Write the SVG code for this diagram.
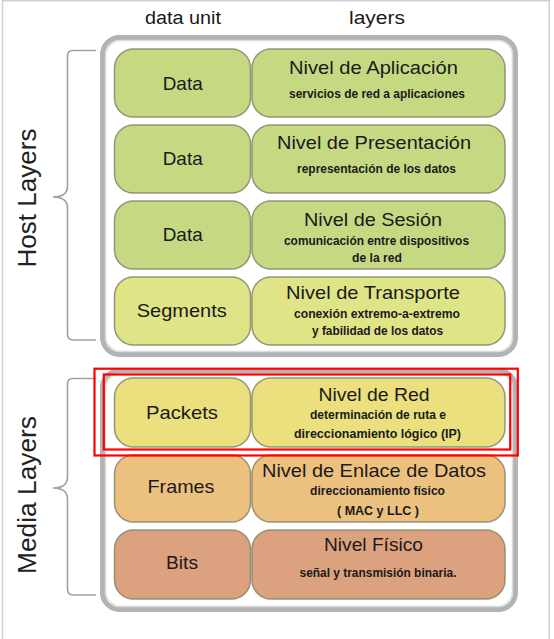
<svg xmlns="http://www.w3.org/2000/svg" width="554" height="639" viewBox="0 0 554 639">
<style>
.frame{fill:none;stroke:#cdd0d8;stroke-width:1.5}
.cont{fill:#ffffff;stroke:#b3b3b3;stroke-width:5}
.cont2{fill:none;stroke:#dcdcdc;stroke-width:1.5}
.box{stroke:#85866a;stroke-width:1.5;stroke-opacity:0.85}
.g{fill:#c5d983}.yg{fill:#dfe487}.y{fill:#ebdf7e}.o{fill:#ecc07e}.s{fill:#dca17e}
.brace{fill:none;stroke:#a0a0a0;stroke-width:1.6}
.red{fill:none;stroke:#ff0000;stroke-width:2.2}
text{font-family:"Liberation Sans",Arial,sans-serif;fill:#1a1a1a;text-anchor:middle}
.hdr{font-size:18px}
.side{font-size:26px;fill:#222}
.unit{font-size:19px}
.title{font-size:19px}
.sub{font-family:"Liberation Sans Narrow","Liberation Sans",Arial,sans-serif;font-size:12px;font-weight:bold}
</style>
<rect x="0" y="0" width="554" height="639" fill="#ffffff"/>
<path class="frame" d="M2.5,639 V0.75 H549.25 V639"/>
<text class="hdr" x="183" y="24" textLength="76" lengthAdjust="spacingAndGlyphs">data unit</text>
<text class="hdr" x="377" y="24" textLength="56" lengthAdjust="spacingAndGlyphs">layers</text>
<g id="host-brace">
<path class="brace" d="M96,50.5 H73 Q67.5,50.5 67.5,56 V186 Q67.5,197 53,197 Q67.5,197 67.5,208 V334 Q67.5,340 73,340 H96"/>
<text class="side" transform="translate(36,198) rotate(-90)" textLength="139" lengthAdjust="spacingAndGlyphs">Host Layers</text>
</g>
<g id="media-brace">
<path class="brace" d="M96,378.5 H73 Q67.5,378.5 67.5,384 V477 Q67.5,488 53,488 Q67.5,488 67.5,499 V589 Q67.5,595 73,595 H96"/>
<text class="side" transform="translate(36,495) rotate(-90)" textLength="158" lengthAdjust="spacingAndGlyphs">Media Layers</text>
</g>
<g id="host-container"><rect class="cont" x="102.5" y="37.5" width="413" height="317" rx="17"/><rect class="cont2" x="105.5" y="40.5" width="407" height="311" rx="15"/></g>
<g id="media-container"><rect class="cont" x="102.5" y="370.5" width="413" height="239" rx="17"/><rect class="cont2" x="105.5" y="373.5" width="407" height="233" rx="15"/></g>

<g id="row-aplicacion">
<rect class="box g" x="114.5" y="49" width="136" height="68" rx="19"/>
<rect class="box g" x="252" y="49" width="253" height="68" rx="19"/>
<text class="unit" x="182.7" y="90" textLength="40" lengthAdjust="spacingAndGlyphs">Data</text>
<text class="title" x="373.5" y="74" textLength="169" lengthAdjust="spacingAndGlyphs">Nivel de Aplicación</text>
<text class="sub" x="377" y="98" textLength="176" lengthAdjust="spacingAndGlyphs">servicios de red a aplicaciones</text>
</g>
<g id="row-presentacion">
<rect class="box g" x="114.5" y="125" width="136" height="68" rx="19"/>
<rect class="box g" x="252" y="125" width="253" height="68" rx="19"/>
<text class="unit" x="182.7" y="165" textLength="40" lengthAdjust="spacingAndGlyphs">Data</text>
<text class="title" x="374" y="149" textLength="194" lengthAdjust="spacingAndGlyphs">Nivel de Presentación</text>
<text class="sub" x="376.5" y="173" textLength="159" lengthAdjust="spacingAndGlyphs">representación de los datos</text>
</g>
<g id="row-sesion">
<rect class="box g" x="114.5" y="201" width="136" height="68" rx="19"/>
<rect class="box g" x="252" y="201" width="253" height="68" rx="19"/>
<text class="unit" x="182.7" y="241" textLength="40" lengthAdjust="spacingAndGlyphs">Data</text>
<text class="title" x="373" y="225.5" textLength="138" lengthAdjust="spacingAndGlyphs">Nivel de Sesión</text>
<text class="sub" x="376.5" y="245" textLength="185" lengthAdjust="spacingAndGlyphs">comunicación entre dispositivos</text>
<text class="sub" x="377" y="262" textLength="50" lengthAdjust="spacingAndGlyphs">de la red</text>
</g>
<g id="row-transporte">
<rect class="box yg" x="114.5" y="277" width="136" height="68" rx="19"/>
<rect class="box yg" x="252" y="277" width="253" height="68" rx="19"/>
<text class="unit" x="181.7" y="317" textLength="90" lengthAdjust="spacingAndGlyphs">Segments</text>
<text class="title" x="373" y="299" textLength="174" lengthAdjust="spacingAndGlyphs">Nivel de Transporte</text>
<text class="sub" x="377" y="317.5" textLength="166" lengthAdjust="spacingAndGlyphs">conexión extremo-a-extremo</text>
<text class="sub" x="377.5" y="335" textLength="131" lengthAdjust="spacingAndGlyphs">y fabilidad de los datos</text>
</g>
<g id="row-red">
<rect class="box y" x="114.5" y="378" width="136" height="69" rx="19"/>
<rect class="box y" x="252" y="378" width="253" height="69" rx="19"/>
<text class="unit" x="182" y="419" textLength="72" lengthAdjust="spacingAndGlyphs">Packets</text>
<text class="title" x="374" y="401" textLength="111" lengthAdjust="spacingAndGlyphs">Nivel de Red</text>
<text class="sub" x="378" y="419" textLength="136" lengthAdjust="spacingAndGlyphs">determinación de ruta e</text>
<text class="sub" x="377.5" y="437.5" textLength="167" lengthAdjust="spacingAndGlyphs">direccionamiento lógico (IP)</text>
</g>
<g id="row-enlace">
<rect class="box o" x="114.5" y="455" width="136" height="67" rx="19"/>
<rect class="box o" x="252" y="455" width="253" height="67" rx="19"/>
<text class="unit" x="181" y="493" textLength="67" lengthAdjust="spacingAndGlyphs">Frames</text>
<text class="title" x="374" y="476.5" textLength="224" lengthAdjust="spacingAndGlyphs">Nivel de Enlace de Datos</text>
<text class="sub" x="377.5" y="495" textLength="135" lengthAdjust="spacingAndGlyphs">direccionamiento físico</text>
<text class="sub" x="378" y="514.5" textLength="82" lengthAdjust="spacingAndGlyphs">( MAC y LLC )</text>
</g>
<g id="row-fisico">
<rect class="box s" x="114.5" y="530" width="136" height="69" rx="19"/>
<rect class="box s" x="252" y="530" width="253" height="69" rx="19"/>
<text class="unit" x="182" y="569" textLength="32" lengthAdjust="spacingAndGlyphs">Bits</text>
<text class="title" x="373.5" y="551" textLength="99" lengthAdjust="spacingAndGlyphs">Nivel Físico</text>
<text class="sub" x="378" y="577" textLength="157" lengthAdjust="spacingAndGlyphs">señal y transmisión binaria.</text>
</g>
<g id="highlight">
<rect class="red" x="94.5" y="368.7" width="423.3" height="86.8"/>
<rect class="red" x="103.8" y="374.5" width="406.4" height="75"/>
</g>
<g id="connectors"></g>
</svg>
